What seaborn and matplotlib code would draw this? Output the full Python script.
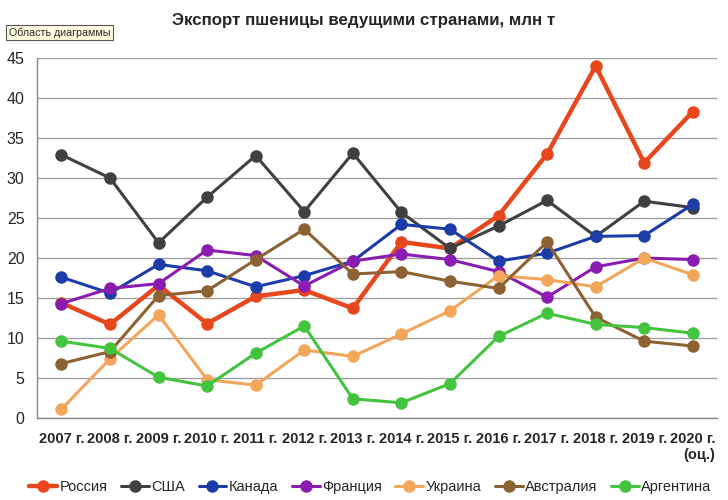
import pandas as pd
import matplotlib
matplotlib.use("Agg")
import matplotlib.pyplot as plt
import seaborn as sns

years = ["2007 г.", "2008 г.", "2009 г.", "2010 г.", "2011 г.", "2012 г.", "2013 г.",
         "2014 г.", "2015 г.", "2016 г.", "2017 г.", "2018 г.", "2019 г.", "2020 г.\n(оц.)"]

russia = [14.4, 11.7, 16.6, 11.8, 15.2, 16.0, 13.7, 22.0, 21.2, 25.3, 33.0, 44.0, 31.9, 38.3]
usa = [32.9, 30.0, 21.9, 27.6, 32.8, 25.8, 33.1, 25.7, 21.2, 24.0, 27.2, 22.7, 27.1, 26.3]
canada = [17.6, 15.6, 19.2, 18.4, 16.4, 17.8, 19.6, 24.2, 23.6, 19.6, 20.6, 22.7, 22.8, 26.7]
france = [14.3, 16.2, 16.8, 21.0, 20.3, 16.5, 19.6, 20.5, 19.8, 18.3, 15.1, 18.9, 20.0, 19.8]
ukraine = [1.1, 7.4, 12.9, 4.8, 4.1, 8.5, 7.7, 10.5, 13.4, 17.8, 17.3, 16.4, 20.0, 17.9]
australia = [6.8, 8.3, 15.3, 15.9, 19.8, 23.6, 18.0, 18.3, 17.1, 16.2, 22.0, 12.6, 9.6, 9.0]
argentina = [9.6, 8.7, 5.1, 4.0, 8.1, 11.5, 2.4, 1.9, 4.3, 10.2, 13.1, 11.7, 11.3, 10.6]

series = {
    "Россия": russia,
    "США": usa,
    "Канада": canada,
    "Франция": france,
    "Украина": ukraine,
    "Австралия": australia,
    "Аргентина": argentina,
}
colors = {
    "Россия": "#E8461C",
    "США": "#404040",
    "Канада": "#1C3CA8",
    "Франция": "#8A1DB0",
    "Украина": "#F2A65A",
    "Австралия": "#8C6232",
    "Аргентина": "#44C33E",
}

rows = []
for name, vals in series.items():
    for i, v in enumerate(vals):
        rows.append({"idx": i, "value": v, "country": name})
df = pd.DataFrame(rows)

sns.set_style("white")
plt.rcParams["font.family"] = ["Liberation Sans", "DejaVu Sans"]

fig = plt.figure(figsize=(7.28, 5), dpi=100)
ax = fig.add_axes([0.051, 0.164, 0.934, 0.72])

for name in series:
    sub = df[df["country"] == name]
    lw = 3.2 if name == "Россия" else 2.2
    sns.lineplot(data=sub, x="idx", y="value", ax=ax, color=colors[name],
                 linewidth=lw, marker="o", markersize=9, markeredgewidth=0,
                 label=name)

ax.set_xlim(-0.5, len(years) - 0.5)
ax.set_ylim(0, 45)
ax.set_yticks(range(0, 46, 5))
ax.set_xticks(range(len(years)))
ax.set_xticklabels(years, fontweight="bold", fontsize=10.5, multialignment="right")
ax.set_xticks([i - 0.5 for i in range(len(years) + 1)], minor=True)
ax.tick_params(axis="x", which="major", length=0, pad=10)
ax.tick_params(axis="x", which="minor", length=5, color="#888888", direction="out")
ax.tick_params(axis="y", labelsize=11.5, length=5, color="#888888", direction="out", pad=4)
ax.set_xlabel("")
ax.set_ylabel("")
ax.yaxis.grid(True, color="#A0A0A0", linewidth=1)
ax.xaxis.grid(False)
for side in ["top", "right"]:
    ax.spines[side].set_visible(False)
for side in ["left", "bottom"]:
    ax.spines[side].set_color("#888888")
    ax.spines[side].set_linewidth(1)

fig.suptitle("Экспорт пшеницы ведущими странами, млн т", fontsize=12.2,
             fontweight="bold", x=0.5, y=0.975)

fig.text(0.012, 0.935, "Область диаграммы", fontsize=7.7, ha="left", va="center",
         bbox=dict(boxstyle="square,pad=0.25", facecolor="#FFFFE1", edgecolor="#555555",
                   linewidth=0.8))

ax.legend(loc="upper center", bbox_to_anchor=(0.49, -0.155), ncol=7, frameon=False,
          fontsize=10.5, handlelength=1.9, handletextpad=0.15, columnspacing=0.95,
          borderaxespad=0)

fig.savefig("out.png", dpi=100, facecolor="white")
